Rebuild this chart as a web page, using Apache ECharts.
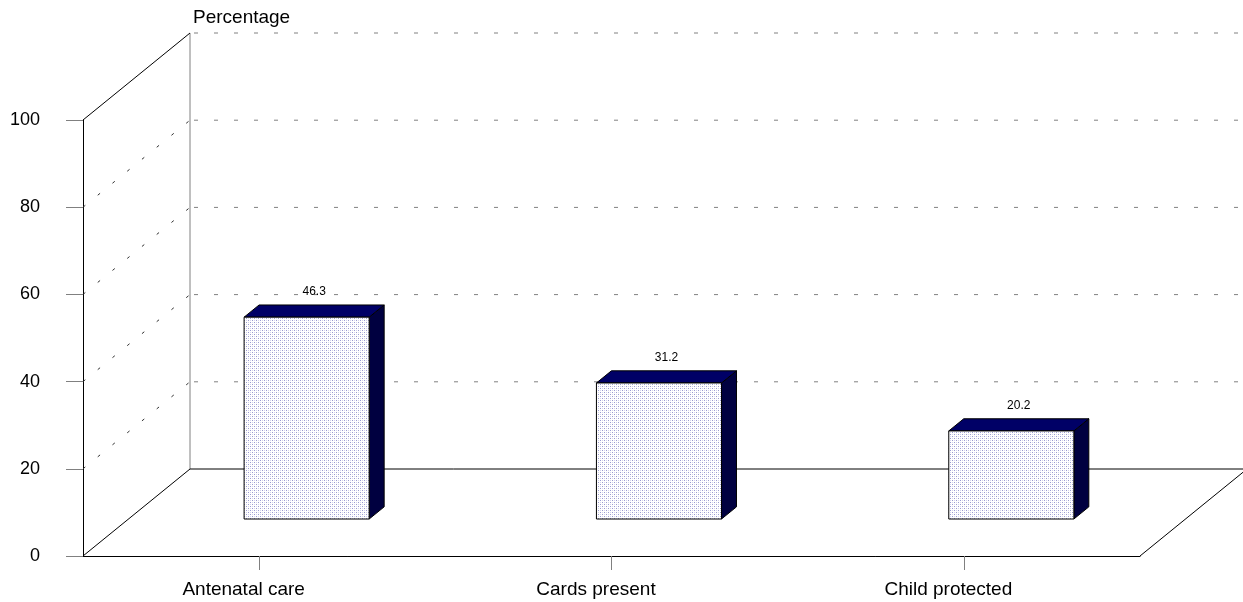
<!DOCTYPE html>
<html>
<head>
<meta charset="utf-8">
<script src="https://cdn.jsdelivr.net/npm/echarts@6/dist/echarts.min.js"></script>
<style>
html,body{margin:0;padding:0;background:#fff;}
#chart{width:1243px;height:602px;}
</style>
</head>
<body>
<div id="chart"></div>
<script>
// ---- data ----
const categories = ['Antenatal care', 'Cards present', 'Child protected'];
const values = [46.3, 31.2, 20.2];
const yTicks = [0, 20, 40, 60, 80, 100];
const yName = 'Percentage';

// ---- style constants (pseudo-3D depth in pixels) ----
const DX = 107, DY = -87;
const BAR_FRONT = 0.425;   // depth fraction of bar front face
const BAR_DEPTH = 0.14;    // depth fraction of bar thickness
const BAR_WIDTH = 0.355;   // fraction of category band
const BAR_SHIFT = 2;
const FONT = 'Liberation Sans, Arial, sans-serif';

// dotted fill pattern for bar fronts
const pc = document.createElement('canvas');
pc.width = 4; pc.height = 4;
const pctx = pc.getContext('2d');
pctx.fillStyle = '#ffffff'; pctx.fillRect(0, 0, 4, 4);
pctx.fillStyle = '#9a9ad0';
pctx.fillRect(0, 0, 1, 1); pctx.fillRect(2, 2, 1, 1);
pctx.fillStyle = '#d4d4ec';
pctx.fillRect(2, 0, 1, 1); pctx.fillRect(0, 2, 1, 1);
const frontFill = { image: pc, repeat: 'repeat' };

const chart = echarts.init(document.getElementById('chart'), null, { renderer: 'canvas' });

function renderFrame(params, api) {
  const cs = params.coordSys;
  const left = cs.x, right = cs.x + cs.width, bottom = cs.y + cs.height, top = cs.y;
  const children = [];
  const maxT = yTicks[yTicks.length - 1];
  children.push({ type: 'line', shape: { x1: left + DX, y1: bottom + DY, x2: left + DX, y2: top + DY },
    style: { stroke: '#808080', lineWidth: 1 } });
  yTicks.forEach(function (t) {
    const yv = api.coord([0, t])[1];
    const solid = (t === 0 || t === maxT);
    children.push({ type: 'line', shape: { x1: left, y1: yv, x2: left + DX, y2: yv + DY },
      style: solid ? { stroke: '#000', lineWidth: 1 } : { stroke: '#303030', lineWidth: 1, lineDash: [3, 16] } });
    if (t === 0) {
      children.push({ type: 'line', shape: { x1: left + DX, y1: yv + DY, x2: right + DX, y2: yv + DY },
        style: { stroke: '#000', lineWidth: 1 } });
    } else {
      children.push({ type: 'line', shape: { x1: left + DX + 4, y1: yv + DY, x2: right + DX, y2: yv + DY },
        style: { stroke: '#808080', lineWidth: 1, lineDash: [4, 16] } });
    }
  });
  children.push({ type: 'line', shape: { x1: right, y1: bottom, x2: right + DX, y2: bottom + DY },
    style: { stroke: '#000', lineWidth: 1 } });
  return { type: 'group', children: children };
}

function renderBar(params, api) {
  const i = api.value(0), v = api.value(1);
  const base = api.coord([i, 0]);
  const topP = api.coord([i, v]);
  const w = api.size([1, 0])[0] * BAR_WIDTH;
  const ox = DX * BAR_FRONT + BAR_SHIFT, oy = DY * BAR_FRONT;
  const tx = DX * BAR_DEPTH, ty = DY * BAR_DEPTH;
  const x = base[0] - w / 2 + ox;
  const yB = base[1] + oy;
  const yT = topP[1] + oy;
  return {
    type: 'group',
    children: [
      { type: 'polygon', shape: { points: [[x + w, yT], [x + w + tx, yT + ty], [x + w + tx, yB + ty], [x + w, yB]] },
        style: { fill: '#000040', stroke: '#000', lineWidth: 1 } },
      { type: 'polygon', shape: { points: [[x, yT], [x + tx, yT + ty], [x + w + tx, yT + ty], [x + w, yT]] },
        style: { fill: '#000066', stroke: '#000', lineWidth: 1 } },
      { type: 'rect', shape: { x: x, y: yT, width: w, height: yB - yT },
        style: { fill: frontFill, stroke: '#000', lineWidth: 1 } },
      { type: 'text', x: x + w / 2 + tx / 2, y: yT + ty - 7,
        style: { text: String(v), fill: '#000', fontSize: 12, fontFamily: FONT, align: 'center', verticalAlign: 'bottom' } }
    ]
  };
}

chart.setOption({
  animation: false,
  backgroundColor: '#fff',
  textStyle: { fontFamily: FONT },
  grid: { left: 83, right: 103, top: 120, bottom: 46, containLabel: false },
  xAxis: {
    type: 'category',
    data: categories,
    boundaryGap: true,
    axisLine: { show: true, lineStyle: { color: '#000', width: 1 } },
    axisTick: { show: true, alignWithLabel: true, length: 14, lineStyle: { color: '#808080' } },
    axisLabel: { color: '#000', fontSize: 19, fontFamily: FONT, margin: 24, padding: [0, 31, 0, 0] },
    splitLine: { show: false }
  },
  yAxis: {
    type: 'value',
    min: 0, max: 100, interval: 20,
    name: yName,
    nameLocation: 'end',
    nameGap: 93,
    nameTextStyle: { color: '#000', fontSize: 19, fontFamily: FONT, align: 'left', padding: [0, 0, 0, 110] },
    axisLine: { show: true, lineStyle: { color: '#000', width: 1 } },
    axisTick: { show: true, length: 17, lineStyle: { color: '#808080' } },
    axisLabel: { color: '#000', fontSize: 18, fontFamily: FONT, margin: 43 },
    splitLine: { show: false }
  },
  series: [
    { type: 'custom', name: 'frame', renderItem: renderFrame, data: [[0, 0]], clip: false, z: 1, silent: true },
    { type: 'custom', name: 'bars', renderItem: renderBar, data: values.map(function (v, i) { return [i, v]; }), clip: false, z: 3, silent: true }
  ]
});
</script>
</body>
</html>
